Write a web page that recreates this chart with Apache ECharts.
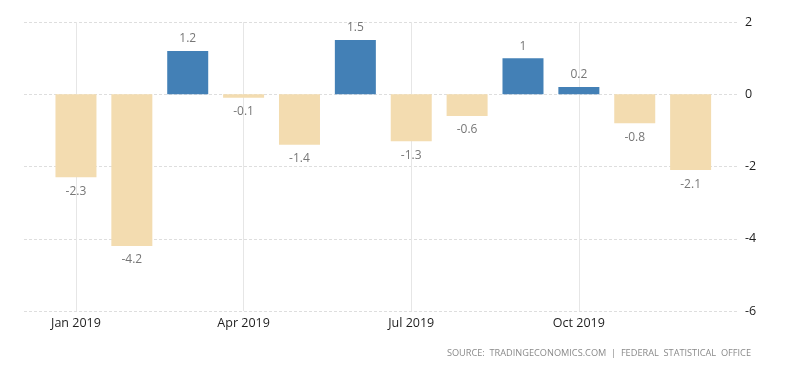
<!DOCTYPE html>
<html>
<head>
<meta charset="utf-8">
<script src="https://cdn.jsdelivr.net/npm/echarts@6/dist/echarts.min.js"></script>
<style>html,body{margin:0;padding:0;background:#fff}#c{width:800px;height:373px}</style>
</head>
<body>
<div id="c"></div>
<script>
const months = ["Jan 2019","Feb 2019","Mar 2019","Apr 2019","May 2019","Jun 2019","Jul 2019","Aug 2019","Sep 2019","Oct 2019","Nov 2019","Dec 2019"];
const values = [-2.3, -4.2, 1.2, -0.1, -1.4, 1.5, -1.3, -0.6, 1, 0.2, -0.8, -2.1];
const labeledMonths = [0, 3, 6, 9];
const yTicks = [-6, -4, -2, 0, 2];
const sourceText = "SOURCE:  TRADINGECONOMICS.COM  |  FEDERAL  STATISTICAL  OFFICE";

const chart = echarts.init(document.getElementById('c'), null, {renderer: 'canvas'});
const font = '"Open Sans", "Liberation Sans", sans-serif';
const data = values.map((v, i) => ({
  value: [i, v],
  itemStyle: {color: v >= 0 ? '#4380b6' : '#f3dcb0'},
  label: {position: v >= 0 ? 'top' : 'bottom', distance: v >= 0 ? 6 : 8}
}));
chart.setOption({
  animation: false,
  grid: {left: 24, right: 63, top: 22, bottom: 62},
  xAxis: {
    type: 'value', min: -0.93, max: 11.83,
    axisLine: {show: false},
    axisTick: {show: false, customValues: labeledMonths},
    axisLabel: {customValues: labeledMonths, formatter: v => months[v], color: '#1e1e1e', fontFamily: font, fontSize: 12.5, margin: 6},
    splitLine: {show: true, lineStyle: {color: '#e6e6e6', width: 1}}
  },
  yAxis: {
    type: 'value', position: 'right', min: yTicks[0], max: yTicks[yTicks.length-1], interval: 2,
    axisLine: {show: false}, axisTick: {show: false},
    axisLabel: {color: '#1e1e1e', fontFamily: font, fontSize: 12.5, margin: 8},
    splitLine: {show: true, lineStyle: {color: '#dedede', type: [3, 2], width: 1}}
  },
  title: {
    text: sourceText, right: 44, bottom: 10,
    textStyle: {color: '#8a8a8a', fontFamily: font, fontSize: 9.2, fontWeight: 'normal'}
  },
  series: [{
    type: 'bar', barWidth: 41, data: data,
    label: {show: true, color: '#777', fontFamily: font, fontSize: 12, formatter: p => String(p.value[1])}
  }]
});
</script>
</body>
</html>
